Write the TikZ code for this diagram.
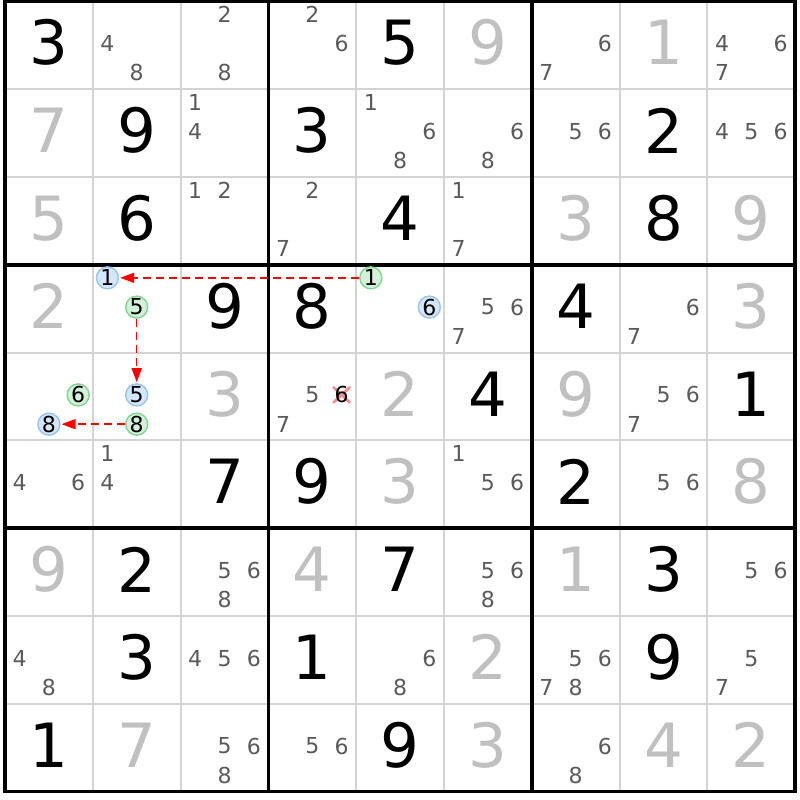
\documentclass[tikz,border=0pt]{standalone}
\usepackage{fontspec}
\setmainfont{DejaVu Sans}
\usetikzlibrary{arrows.meta}
\definecolor{candgrey}{RGB}{90,90,90}
\definecolor{solvedgrey}{RGB}{192,192,192}
\definecolor{thingrid}{RGB}{211,211,211}
\definecolor{bluefill}{RGB}{212,230,250}
\definecolor{blueedge}{RGB}{150,196,240}
\definecolor{greenfill}{RGB}{212,240,218}
\definecolor{greenedge}{RGB}{130,212,145}
\definecolor{elimred}{RGB}{245,140,145}
\def\gx{5}\def\gy{1.3}\def\cs{87.8}
\newcommand\setcpos[3]{\pgfmathsetmacro\px{\gx+\cs*(#2+(2*mod(#3-1,3)+1)/6)}\pgfmathsetmacro\py{\gy+\cs*(#1+(2*int((#3-1)/3)+1)/6)-1.5}}
\newcommand\setbpos[2]{\pgfmathsetmacro\px{\gx+\cs*(#2+0.5)}\pgfmathsetmacro\py{\gy+\cs*(#1+0.5)-2.5}}
\newcommand\Gv[3]{\setbpos{#1}{#2}\node[givenst] (n#1#2) at (\px,\py) {#3};}
\newcommand\Sv[3]{\setbpos{#1}{#2}\node[solvedst] (n#1#2) at (\px,\py) {#3};}
\newcommand\Cv[3]{\foreach \d in {#3}{\setcpos{#1}{#2}{\d}\node[candst] (c#1#2\d) at (\px,\py) {\d};}}
\tikzset{
  bigdigit/.style={font=\fontsize{61}{61}\selectfont, inner sep=0pt},
  givenst/.style={bigdigit, text=black},
  solvedst/.style={bigdigit, text=solvedgrey},
  candst/.style={font=\fontsize{22}{22}\selectfont, inner sep=0pt, text=candgrey},
  hl/.style={circle, minimum size=22pt, inner sep=0pt, line width=1.4pt, font=\fontsize{22}{22}\selectfont, text=black},
  hlblue/.style={hl, draw=blueedge, fill=bluefill},
  hlgreen/.style={hl, draw=greenedge, fill=greenfill},
  thinline/.style={draw=thingrid, line width=2pt},
  thickline/.style={draw=black, line width=3.8pt},
  chainarrow/.style={draw=red, dash pattern=on 8pt off 5pt, line width=1.5pt, -{Triangle[length=14pt,width=10pt,fill=red]}, shorten >=1pt},
  elimx/.style={draw=elimred, line width=2.8pt, line cap=round},
}
\begin{document}
\begin{tikzpicture}[x=1pt,y=-1pt]
\useasboundingbox (0,0) rectangle (800,800);
\fill[white] (0,0) rectangle (800,800);
% thin grid lines
\foreach \i in {1,2,4,5,7,8}{
  \draw[thinline] ({\gx+\cs*\i},\gy) -- ({\gx+\cs*\i},{\gy+9*\cs});
  \draw[thinline] (\gx,{\gy+\cs*\i}) -- ({\gx+9*\cs},{\gy+\cs*\i});
}
% thick grid lines
\foreach \i in {3,6}{
  \draw[thickline] ({\gx+\cs*\i},\gy) -- ({\gx+\cs*\i},{\gy+9*\cs});
  \draw[thickline] (\gx,{\gy+\cs*\i}) -- ({\gx+9*\cs},{\gy+\cs*\i});
}
\draw[thickline] (\gx,\gy) rectangle ({\gx+9*\cs},{\gy+9*\cs});
% row 0
\Gv{0}{0}{3}\Cv{0}{1}{4,8}\Cv{0}{2}{2,8}\Cv{0}{3}{2,6}\Gv{0}{4}{5}\Sv{0}{5}{9}\Cv{0}{6}{6,7}\Sv{0}{7}{1}\Cv{0}{8}{4,6,7}
% row 1
\Sv{1}{0}{7}\Gv{1}{1}{9}\Cv{1}{2}{1,4}\Gv{1}{3}{3}\Cv{1}{4}{1,6,8}\Cv{1}{5}{6,8}\Cv{1}{6}{5,6}\Gv{1}{7}{2}\Cv{1}{8}{4,5,6}
% row 2
\Sv{2}{0}{5}\Gv{2}{1}{6}\Cv{2}{2}{1,2}\Cv{2}{3}{2,7}\Gv{2}{4}{4}\Cv{2}{5}{1,7}\Sv{2}{6}{3}\Gv{2}{7}{8}\Sv{2}{8}{9}
% row 3
\Sv{3}{0}{2}\Gv{3}{2}{9}\Gv{3}{3}{8}\Cv{3}{5}{5,6,7}\Gv{3}{6}{4}\Cv{3}{7}{6,7}\Sv{3}{8}{3}
% row 4
\Sv{4}{2}{3}\Cv{4}{3}{5,7}\Sv{4}{4}{2}\Gv{4}{5}{4}\Sv{4}{6}{9}\Cv{4}{7}{5,6,7}\Gv{4}{8}{1}
% row 5
\Cv{5}{0}{4,6}\Cv{5}{1}{1,4}\Gv{5}{2}{7}\Gv{5}{3}{9}\Sv{5}{4}{3}\Cv{5}{5}{1,5,6}\Gv{5}{6}{2}\Cv{5}{7}{5,6}\Sv{5}{8}{8}
% row 6
\Sv{6}{0}{9}\Gv{6}{1}{2}\Cv{6}{2}{5,6,8}\Sv{6}{3}{4}\Gv{6}{4}{7}\Cv{6}{5}{5,6,8}\Sv{6}{6}{1}\Gv{6}{7}{3}\Cv{6}{8}{5,6}
% row 7
\Cv{7}{0}{4,8}\Gv{7}{1}{3}\Cv{7}{2}{4,5,6}\Gv{7}{3}{1}\Cv{7}{4}{6,8}\Sv{7}{5}{2}\Cv{7}{6}{5,6,7,8}\Gv{7}{7}{9}\Cv{7}{8}{5,7}
% row 8
\Gv{8}{0}{1}\Sv{8}{1}{7}\Cv{8}{2}{5,6,8}\Cv{8}{3}{5,6}\Gv{8}{4}{9}\Sv{8}{5}{3}\Cv{8}{6}{6,8}\Sv{8}{7}{4}\Sv{8}{8}{2}
% eliminated candidate
\setcpos{4}{3}{6}
\coordinate (ex) at (\px,\py);
\draw[elimx] ([shift={(-8,-7.5)}]ex) -- ([shift={(8,7.5)}]ex);
\draw[elimx] ([shift={(-8,7.5)}]ex) -- ([shift={(8,-7.5)}]ex);
\node[candst, text=black] (e436) at (ex) {6};
% highlighted candidates
\setcpos{3}{1}{1}\node[hlblue]  (b1) at (\px,\py) {1};
\setcpos{3}{1}{5}\node[hlgreen] (g5) at (\px,\py) {5};
\setcpos{3}{4}{1}\node[hlgreen] (g1) at (\px,\py) {1};
\setcpos{3}{4}{6}\node[hlblue]  (b6) at (\px,\py) {6};
\setcpos{4}{0}{6}\node[hlgreen] (g6) at (\px,\py) {6};
\setcpos{4}{0}{8}\node[hlblue]  (b8) at (\px,\py) {8};
\setcpos{4}{1}{5}\node[hlblue]  (b5) at (\px,\py) {5};
\setcpos{4}{1}{8}\node[hlgreen] (g8) at (\px,\py) {8};
% chain arrows
\draw[chainarrow] (g1) -- (b1);
\draw[chainarrow] (g5) -- (b5);
\draw[chainarrow] (g8) -- (b8);
\end{tikzpicture}
\end{document}
